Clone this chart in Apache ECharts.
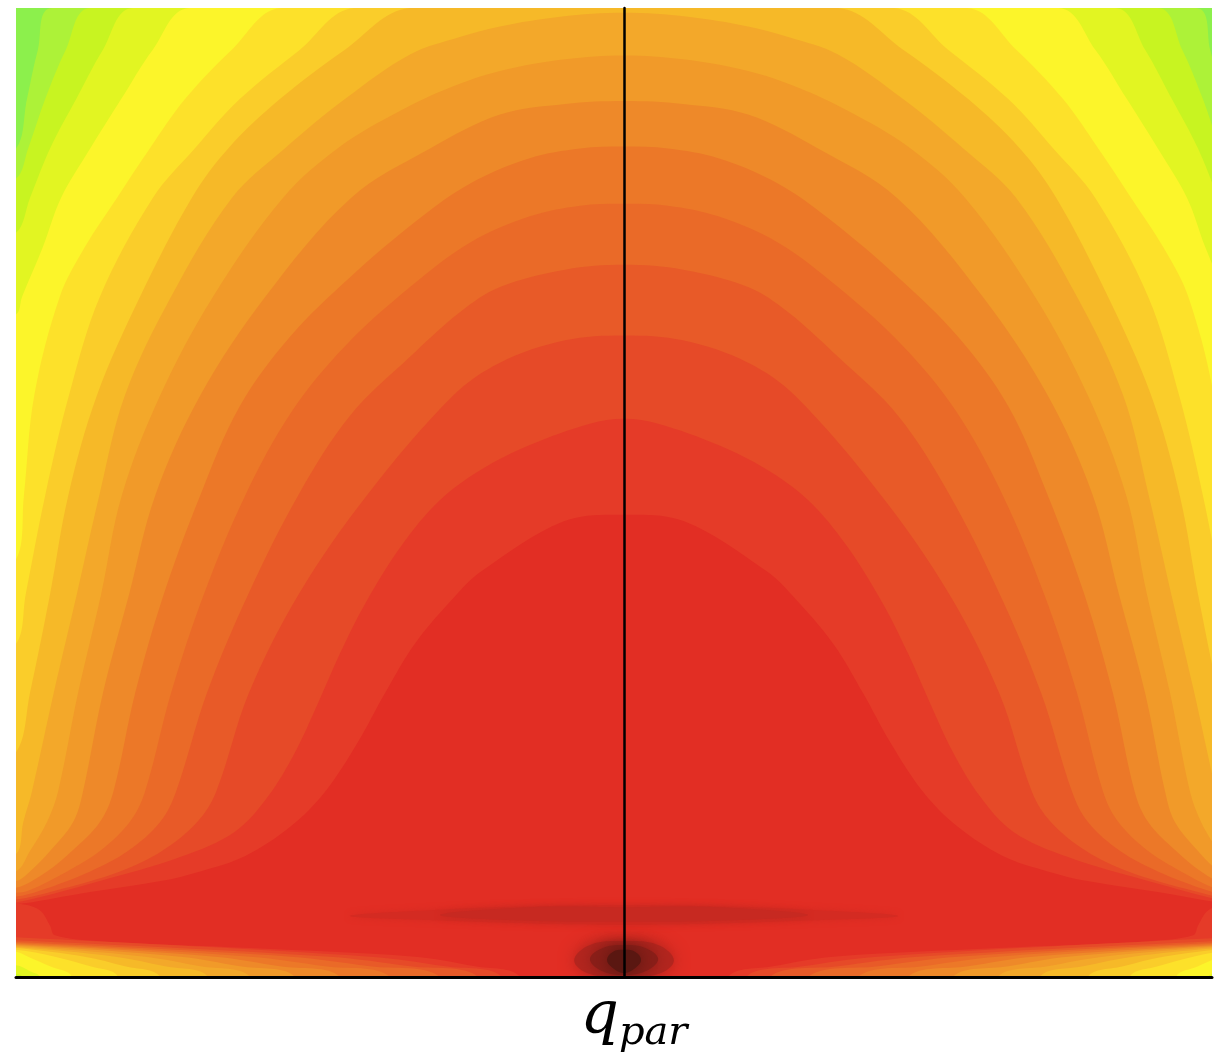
<!DOCTYPE html>
<html>
<head>
<meta charset="utf-8">
<script src="https://cdn.jsdelivr.net/npm/echarts@6/dist/echarts.min.js"></script>
<style>html,body{margin:0;padding:0;background:#fff}#chart{width:1214px;height:1059px}</style>
</head>
<body>
<div id="chart"></div>
<script>
// Contour boundaries (left half; the field is symmetric about q_par = 0).
// x = q_par (normalised), y = normalised vertical coordinate (0 = axis, 1 = top).
// archK: boundary of the region where level >= K, from the left edge up to the top / centre.
const arch1 = [[-1,0.855],[-0.982,0.906],[-0.964,0.957],[-0.941,1.0]];
const arch2 = [[-1,0.824],[-0.980,0.855],[-0.952,0.906],[-0.918,0.957],[-0.878,1.0]];
const arch3 = [[-1,0.768],[-0.977,0.804],[-0.944,0.855],[-0.901,0.906],[-0.857,0.957],[-0.808,1.0]];
const arch4 = [[-1,0.684],[-0.990,0.702],[-0.956,0.753],[-0.926,0.804],[-0.878,0.855],[-0.827,0.906],[-0.775,0.957],[-0.715,1.0]];
const arch5 = [[-1,0.431],[-0.987,0.497],[-0.970,0.600],[-0.928,0.702],[-0.887,0.753],[-0.834,0.804],[-0.780,0.855],[-0.722,0.906],[-0.645,0.957],[-0.564,1.0]];
const arch6 = [[-1,0.344],[-0.984,0.395],[-0.952,0.497],[-0.913,0.600],[-0.862,0.702],[-0.775,0.804],[-0.706,0.855],[-0.632,0.906],[-0.533,0.957],[-0.444,1.0]];
const arch7 = [[-1,0.232],[-0.977,0.293],[-0.944,0.395],[-0.914,0.497],[-0.867,0.600],[-0.796,0.702],[-0.711,0.804],[-0.651,0.855],[-0.566,0.906],[-0.459,0.957],[-0.352,1.0]];
const arch8 = [[-1,0.127],[-0.988,0.160],[-0.974,0.191],[-0.938,0.293],[-0.900,0.395],[-0.863,0.497],[-0.821,0.600],[-0.745,0.702],[-0.645,0.804],[-0.558,0.855],[-0.459,0.906],[-0.352,0.952],[-0.270,0.970],[-0.204,0.981],[-0.105,0.991],[0,0.995]];
const arch9 = [[-1,0.109],[-0.977,0.130],[-0.949,0.160],[-0.931,0.191],[-0.898,0.293],[-0.860,0.395],[-0.826,0.497],[-0.763,0.600],[-0.676,0.702],[-0.561,0.804],[-0.467,0.857],[-0.368,0.894],[-0.286,0.918],[-0.204,0.935],[-0.097,0.947],[0,0.951]];
const arch10 = [[-1,0.099],[-0.977,0.109],[-0.944,0.130],[-0.906,0.160],[-0.890,0.191],[-0.857,0.293],[-0.814,0.395],[-0.771,0.497],[-0.697,0.600],[-0.590,0.702],[-0.449,0.804],[-0.319,0.855],[-0.204,0.890],[-0.097,0.901],[0,0.904]];
const arch11 = [[-1,0.092],[-0.949,0.109],[-0.908,0.130],[-0.862,0.160],[-0.840,0.191],[-0.804,0.293],[-0.757,0.395],[-0.697,0.497],[-0.632,0.589],[-0.549,0.661],[-0.451,0.722],[-0.336,0.783],[-0.253,0.819],[-0.155,0.845],[-0.072,0.855],[0,0.857]];
const arch12 = [[-1,0.087],[-0.980,0.089],[-0.916,0.109],[-0.862,0.130],[-0.813,0.160],[-0.788,0.191],[-0.745,0.293],[-0.691,0.395],[-0.623,0.497],[-0.546,0.584],[-0.459,0.651],[-0.352,0.712],[-0.253,0.758],[-0.155,0.785],[-0.072,0.796],[0,0.798]];
const arch13 = [[-1,0.083],[-0.961,0.089],[-0.878,0.109],[-0.816,0.130],[-0.763,0.160],[-0.737,0.191],[-0.686,0.293],[-0.618,0.395],[-0.536,0.497],[-0.451,0.579],[-0.352,0.640],[-0.270,0.686],[-0.204,0.712],[-0.097,0.730],[0,0.735]];
const arch14 = [[-1,0.080],[-0.936,0.089],[-0.829,0.109],[-0.760,0.130],[-0.702,0.160],[-0.671,0.191],[-0.617,0.293],[-0.535,0.395],[-0.423,0.497],[-0.281,0.600],[-0.204,0.634],[-0.097,0.657],[0,0.662]];
const arch15 = [[-1,0.077],[-0.862,0.099],[-0.729,0.124],[-0.640,0.150],[-0.586,0.186],[-0.541,0.232],[-0.503,0.283],[-0.467,0.334],[-0.426,0.385],[-0.365,0.446],[-0.303,0.492],[-0.234,0.524],[-0.155,0.549],[-0.056,0.571],[0,0.576]];
const arch16 = [[-1,0.075],[-0.895,0.086],[-0.762,0.099],[-0.697,0.109],[-0.623,0.125],[-0.549,0.155],[-0.492,0.191],[-0.438,0.242],[-0.393,0.293],[-0.344,0.344],[-0.275,0.395],[-0.234,0.419],[-0.100,0.470],[0,0.477]];

// lowK: lower boundary near the axis of the region where level < K (from the left edge down to the axis).
const low3  = [[-1,0.003],[-0.990,0]];
const low4  = [[-1,0.012],[-0.977,0.006],[-0.961,0]];
const low5  = [[-1,0.026],[-0.980,0.021],[-0.944,0.011],[-0.908,0]];
const low6  = [[-1,0.028],[-0.936,0.021],[-0.878,0.011],[-0.832,0]];
const low7  = [[-1,0.030],[-0.887,0.021],[-0.821,0.011],[-0.763,0]];
const low8  = [[-1,0.031],[-0.837,0.021],[-0.755,0.011],[-0.684,0]];
const low9  = [[-1,0.032],[-0.788,0.021],[-0.697,0.011],[-0.615,0]];
const low10 = [[-1,0.033],[-0.730,0.021],[-0.632,0.011],[-0.541,0]];
const low11 = [[-1,0.034],[-0.673,0.021],[-0.566,0.011],[-0.467,0]];
const low12 = [[-1,0.035],[-0.615,0.021],[-0.492,0.011],[-0.385,0]];
const low13 = [[-1,0.036],[-0.549,0.021],[-0.418,0.011],[-0.303,0]];
const low14 = [[-1,0.038],[-0.484,0.021],[-0.352,0.011],[-0.240,0]];
const low15 = [[-1,0.041],[-0.418,0.021],[-0.294,0.011],[-0.201,0]];
const low16 = [[-1,0.076],[-0.961,0.069],[-0.944,0.053],[-0.936,0.043],[-0.862,0.037],[-0.615,0.030],[-0.344,0.021],[-0.245,0.011],[-0.171,0]];

// Closed high-level islands near the axis (left half, from bottom-centre round the left tip to top-centre).
const band17 = [[0,0.054],[-0.138,0.055],[-0.286,0.058],[-0.451,0.063],[-0.286,0.070],[-0.138,0.073],[0,0.074]];
const band18 = [[0,0.057],[-0.155,0.058],[-0.303,0.064],[-0.155,0.072],[0,0.072]];
const peak19 = [[0,0],[-0.056,0.003],[-0.082,0.017],[-0.056,0.033],[0,0.037]];
const peak20 = [[0,0.002],[-0.039,0.007],[-0.056,0.019],[-0.035,0.030],[0,0.033]];
const peak21 = [[0,0.004],[-0.020,0.010],[-0.028,0.018],[-0.018,0.026],[0,0.028]];

const axisName = 'q';
const axisSub = 'par';

const palette = ['#8cf04c','#adf238','#c8f421','#e2f522','#fcf52a','#fde12a','#facd2a','#f6b928',
  '#f3a82a','#f19a29','#ee8929','#ec7828','#ea6a28','#e85a28','#e64a28','#e53b28','#e22e24',
  '#d42b22','#c72921','#b3261f','#8a1f19','#5a1711'];

const arches = [arch1,arch2,arch3,arch4,arch5,arch6,arch7,arch8,arch9,arch10,arch11,arch12,arch13,arch14,arch15,arch16];
const lows = {3:low3,4:low4,5:low5,6:low6,7:low7,8:low8,9:low9,10:low10,11:low11,12:low12,13:low13,14:low14,15:low15,16:low16};
const islands = [[17,band17],[18,band18],[19,peak19],[20,peak20],[21,peak21]];

const layers = [];
arches.forEach((pts, i) => layers.push({kind:'arch', level:i+1, pts}));
for (let k = 16; k >= 3; k--) layers.push({kind:'low', level:k, pts:lows[k]});
islands.forEach(([lv, pts]) => layers.push({kind:'island', level:lv, pts}));

function mirror(p) { return [-p[0], p[1]]; }
function archPoints(pts) {
  const last = pts[pts.length - 1];
  const body = last[0] === 0 ? pts.slice(0, -1) : pts.slice();
  const right = body.slice().reverse().map(mirror);
  const y0 = pts[0][1];
  return [[-1.05,-0.05],[-1.05,y0]].concat(pts, right, [[1.05,y0],[1.05,-0.05]]);
}
function lowPoints(pts, s) {
  const c = pts.map(p => [s*p[0], p[1]]);
  const ye = pts[0][1], xb = pts[pts.length-1][0];
  return [[-1.05*s, ye]].concat(c, [[s*xb,-0.05],[-1.05*s,-0.05]]);
}
function islandPoints(pts) {
  return pts.concat(pts.slice(1,-1).reverse().map(mirror));
}

const chart = echarts.init(document.getElementById('chart'), null, {renderer:'canvas'});
chart.setOption({
  animation: false,
  backgroundColor: '#ffffff',
  grid: {left: 16, right: 2, top: 8, bottom: 72, show: true, backgroundColor: palette[0], borderWidth: 0},
  xAxis: {
    type: 'value', min: -1, max: 0.967, z: 10,
    axisLine: {show: true, onZero: true, lineStyle: {color: '#000', width: 3}},
    axisTick: {show: false}, axisLabel: {show: false}, splitLine: {show: false},
    name: '{q|' + axisName + '}{s|' + axisSub + '}',
    nameLocation: 'middle', nameGap: 10,
    nameTextStyle: {
      padding: [0,0,0,40],
      rich: {
        q: {fontFamily: 'DejaVu Serif', fontStyle: 'italic', fontSize: 60, color: '#000', verticalAlign: 'bottom', padding: [0,0,7,0]},
        s: {fontFamily: 'DejaVu Serif', fontStyle: 'italic', fontSize: 40, color: '#000', verticalAlign: 'bottom'}
      }
    }
  },
  yAxis: {
    type: 'value', min: 0, max: 1, z: 10,
    axisLine: {show: true, onZero: true, lineStyle: {color: '#000', width: 2.5}},
    axisTick: {show: false}, axisLabel: {show: false}, splitLine: {show: false}
  },
  series: [{
    type: 'custom',
    coordinateSystem: 'cartesian2d',
    clip: true,
    silent: true,
    data: layers.map((l, i) => [0, 0, i]),
    encode: {x: 0, y: 1},
    renderItem: function (params, api) {
      const L = layers[api.value(2)];
      const toPx = arr => arr.map(p => api.coord(p));
      if (L.kind === 'arch') {
        return {type: 'polygon', shape: {points: toPx(archPoints(L.pts)), smooth: 0.35}, style: {fill: palette[L.level]}};
      }
      if (L.kind === 'low') {
        const col = palette[L.level - 1];
        return {type: 'group', children: [
          {type: 'polygon', shape: {points: toPx(lowPoints(L.pts, 1)), smooth: 0.35}, style: {fill: col}},
          {type: 'polygon', shape: {points: toPx(lowPoints(L.pts, -1)), smooth: 0.35}, style: {fill: col}}
        ]};
      }
      const col = palette[L.level];
      return {type: 'polygon', shape: {points: toPx(islandPoints(L.pts)), smooth: 0.4},
        style: {fill: col, shadowBlur: L.level >= 19 ? 16 : 6, shadowColor: col}};
    }
  }]
});
</script>
</body>
</html>
